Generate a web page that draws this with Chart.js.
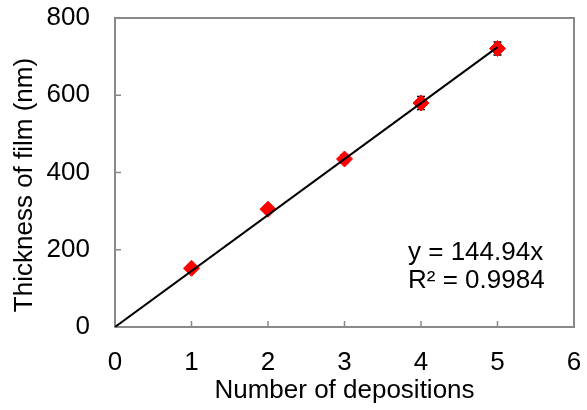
<!DOCTYPE html>
<html>
<head>
<meta charset="utf-8">
<script src="https://cdn.jsdelivr.net/npm/chart.js@4"></script>
<style>
  html, body { margin: 0; padding: 0; background: #fff; }
  #wrap { width: 587px; height: 410px; }
</style>
</head>
<body>
<div id="wrap"><canvas id="c" width="587" height="410"></canvas></div>
<script>
// Film thickness after successive depositions (mean ± error)
const depositions = [1, 2, 3, 4, 5];
const thickness = [152, 305, 435, 580, 721];
const thicknessErr = [8, 9, 11, 17, 17];

// Linear fit through the origin
const fitSlope = 144.94;
const fitR2 = '0.9984';
const fitRange = [0, 5];

const xTicks = [0, 1, 2, 3, 4, 5, 6];
const yTicks = [0, 200, 400, 600, 800];
const yTitle = 'Thickness of film (nm)';

const FONT = 'Liberation Sans, Arial, sans-serif';
const FONT_SIZE = 26;
const AXIS_GRAY = '#898989';

const fitPoints = fitRange.map(x => ({ x: x, y: fitSlope * x }));
const dataPoints = depositions.map((x, i) => ({ x: x, y: thickness[i] }));

// Frame, inward tick marks and error bars, drawn beneath the markers
const decorations = {
  id: 'decorations',
  beforeDatasetsDraw(chart) {
    const { ctx, chartArea: a, scales: { x, y } } = chart;
    ctx.save();
    // error bars
    ctx.strokeStyle = '#000';
    ctx.lineWidth = 1.5;
    depositions.forEach((d, i) => {
      const px = x.getPixelForValue(d);
      const top = y.getPixelForValue(thickness[i] + thicknessErr[i]);
      const bot = y.getPixelForValue(thickness[i] - thicknessErr[i]);
      ctx.beginPath();
      ctx.moveTo(px, top); ctx.lineTo(px, bot);
      ctx.moveTo(px - 4, top); ctx.lineTo(px + 4, top);
      ctx.moveTo(px - 4, bot); ctx.lineTo(px + 4, bot);
      ctx.stroke();
    });
    // tick marks pointing into the plot
    ctx.strokeStyle = AXIS_GRAY;
    ctx.lineWidth = 1.5;
    ctx.beginPath();
    x.ticks.forEach(t => {
      const px = x.getPixelForValue(t.value);
      ctx.moveTo(px, a.bottom); ctx.lineTo(px, a.bottom - 6);
    });
    y.ticks.forEach(t => {
      const py = y.getPixelForValue(t.value);
      ctx.moveTo(a.left, py); ctx.lineTo(a.left + 6, py);
    });
    ctx.stroke();
    // frame
    ctx.lineWidth = 2;
    ctx.strokeRect(a.left, a.top, a.right - a.left, a.bottom - a.top);
    ctx.restore();
  },
  afterDraw(chart) {
    const { ctx } = chart;
    ctx.save();
    ctx.fillStyle = '#000';
    ctx.font = FONT_SIZE + 'px ' + FONT;
    ctx.textBaseline = 'middle';
    // fit equation
    ctx.textAlign = 'left';
    ctx.fillText('y = ' + fitSlope + 'x', 408, 253);
    ctx.fillText('R² = ' + fitR2, 408, 281);
    // vertical axis title, sitting a little below the plot's middle
    ctx.translate(25, 185);
    ctx.rotate(-Math.PI / 2);
    ctx.textAlign = 'center';
    ctx.fillText(yTitle, 0, 0);
    ctx.restore();
  }
};

new Chart(document.getElementById('c'), {
  type: 'scatter',
  data: {
    datasets: [
      {
        type: 'line',
        data: fitPoints,
        borderColor: '#000',
        borderWidth: 2,
        pointRadius: 0,
        fill: false,
        tension: 0
      },
      {
        data: dataPoints,
        pointStyle: 'rectRot',
        pointRadius: 8,
        pointBackgroundColor: '#ff0000',
        pointBorderColor: '#ff0000',
        pointBorderWidth: 1
      }
    ]
  },
  options: {
    responsive: false,
    animation: false,
    devicePixelRatio: 1,
    layout: { padding: { left: 0, top: 18, right: 13, bottom: 0 } },
    plugins: { legend: { display: false }, tooltip: { enabled: false } },
    scales: {
      x: {
        type: 'linear',
        min: 0, max: 6,
        afterBuildTicks: s => { s.ticks = xTicks.map(v => ({ value: v })); },
        afterFit: s => { s.height = 83; s.paddingLeft = 0; s.paddingRight = 0; },
        grid: { display: false, drawTicks: false },
        border: { display: false },
        ticks: { padding: 20, color: '#000', font: { family: FONT, size: FONT_SIZE } },
        title: {
          display: true,
          text: 'Number of depositions',
          color: '#000',
          font: { family: FONT, size: FONT_SIZE },
          padding: { top: 0, bottom: 4 }
        }
      },
      y: {
        type: 'linear',
        min: 0, max: 800,
        afterBuildTicks: s => { s.ticks = yTicks.map(v => ({ value: v })); },
        afterFit: s => { s.width = 115; s.paddingTop = 0; s.paddingBottom = 0; },
        grid: { display: false, drawTicks: false },
        border: { display: false },
        ticks: { padding: 25, color: '#000', font: { family: FONT, size: FONT_SIZE } },
        title: { display: false }
      }
    }
  },
  plugins: [decorations]
});
</script>
</body>
</html>
